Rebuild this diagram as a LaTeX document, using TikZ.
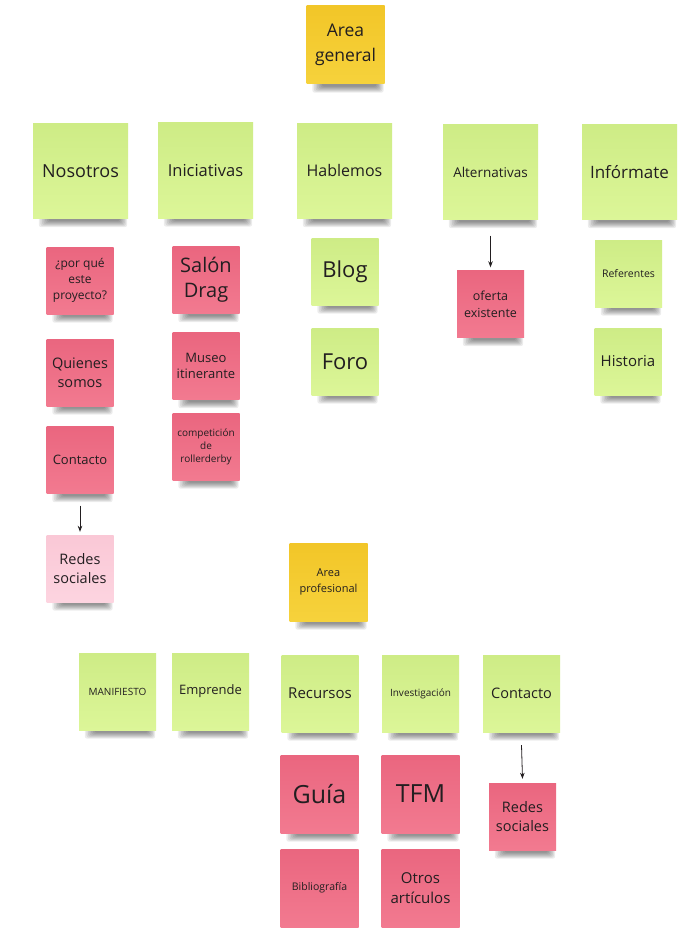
\documentclass[tikz,border=0pt]{standalone}
\usepackage{fontspec}
\setmainfont{Open Sans}
\usetikzlibrary{backgrounds,calc,arrows.meta}

\definecolor{ink}{RGB}{34,30,32}
\definecolor{leafTop}{RGB}{206,236,134}
\definecolor{leafBot}{RGB}{220,246,152}
\definecolor{roseTop}{RGB}{234,102,127}
\definecolor{roseBot}{RGB}{242,122,144}
\definecolor{blushTop}{RGB}{250,200,214}
\definecolor{blushBot}{RGB}{253,212,224}
\definecolor{sunTop}{RGB}{242,198,40}
\definecolor{sunBot}{RGB}{246,210,60}

\newcommand\fsz[2]{\fontsize{#1}{#2}\selectfont}

\tikzset{
  sq/.style={minimum width=#1pt, minimum height=#1pt},
  fs/.style 2 args={font=\fsz{#1}{#2}},
  sticky/.style={inner sep=1pt, align=center, text=ink, draw=none},
  leaf/.style={sticky, top color=leafTop, bottom color=leafBot},
  rose/.style={sticky, top color=roseTop, bottom color=roseBot},
  blush/.style={sticky, top color=blushTop, bottom color=blushBot},
  sun/.style={sticky, top color=sunTop, bottom color=sunBot},
  link/.style={draw=ink, line width=0.8pt, -{Stealth[length=6pt,width=4.5pt]}},
  curl/.style={fill=black, fill opacity=0.075, rounded corners=2.5pt}
}

\begin{document}
\begin{tikzpicture}[x=1pt, y=-1pt]
\useasboundingbox (0,0) rectangle (686,928);

% general area
\node[sun, sq=78, fs={17.5}{25}] (gen) at (345.5,45) {Area\\general};

\node[leaf, sq=95, fs={18}{24}] (nos) at (80.5,171) {Nosotros};
\node[leaf, sq=95, fs={16.5}{22}] (ini) at (205.5,170.5) {Iniciativas};
\node[leaf, sq=95, fs={16}{22}] (hab) at (344.5,171) {Hablemos};
\node[leaf, sq=95, fs={13.5}{18}] (alt) at (490.5,172) {Alternativas};
\node[leaf, sq=95, fs={17}{22}] (inf) at (629.5,172) {Infórmate};

\node[rose, sq=67, fs={12}{16}] (porque) at (80,280.5) {¿por qué\\este\\proyecto?};
\node[rose, sq=67, fs={14.5}{19.5}] (quienes) at (80,372.5) {Quienes\\somos};
\node[rose, sq=67, fs={13}{17}] (contA) at (80,460) {Contacto};
\node[blush, sq=67, fs={14.5}{19.5}] (redA) at (80,568.5) {Redes\\sociales};

\node[rose, sq=67, fs={20}{25}] (salon) at (206,280) {Salón\\Drag};
\node[rose, sq=67, fs={13}{16.5}] (museo) at (206,366) {Museo\\itinerante};
\node[rose, sq=67, fs={10}{13}] (comp) at (206,446.5) {competición\\de\\rollerderby};

\node[leaf, sq=67, fs={22}{26}] (blog) at (345,271.5) {Blog};
\node[leaf, sq=67, fs={22}{26}] (foro) at (345,361.5) {Foro};

\node[rose, sq=67, fs={12.5}{17}] (ofer) at (490.5,304) {oferta\\existente};

\node[leaf, sq=67, fs={10.5}{14}] (refe) at (628.5,273.5) {Referentes};
\node[leaf, sq=67, fs={15}{19}] (hist) at (628,361.5) {Historia};

% professional area
\node[sun, sq=78, fs={11}{16}] (pro) at (328.5,582) {Area\\profesional};

\node[leaf, sq=77, fs={10}{13}] (mani) at (117.5,691.5) {MANIFIESTO};
\node[leaf, sq=77, fs={13}{17}] (empr) at (210.5,691.5) {Emprende};
\node[leaf, sq=77, fs={15}{19}] (recu) at (320,693.5) {Recursos};
\node[leaf, sq=77, fs={10}{13}] (inve) at (420.5,693.5) {Investigación};
\node[leaf, sq=77, fs={14.5}{19}] (contB) at (521.5,693.5) {Contacto};

\node[rose, sq=78, fs={25}{30}] (guia) at (319.5,794) {Guía};
\node[rose, sq=78, fs={25}{30}] (tfm) at (420.5,794) {TFM};
\node[rose, sq=67, fs={14.5}{19.5}] (redB) at (522.5,816.5) {Redes\\sociales};
\node[rose, sq=78, fs={10.5}{14}] (bibl) at (319.5,888) {Bibliografía};
\node[rose, sq=78, fs={15}{20}] (otros) at (420.5,888) {Otros\\artículos};

% white sheet and soft shadows under the lower edge of every note
\begin{pgfonlayer}{background}
\fill[white] (0,0) rectangle (686,928);
\foreach \n in {gen,nos,ini,hab,alt,inf,porque,quienes,contA,redA,salon,museo,comp,
                blog,foro,ofer,refe,hist,pro,mani,empr,recu,inve,contB,guia,tfm,redB,bibl,otros}
  \foreach \k in {0,...,6}
    \path[curl] ($(\n.south west)+(6+1.6*\k,-3)$) rectangle ($(\n.south east)+(-1-1.2*\k,8.5-\k)$);
\end{pgfonlayer}

% connectors
\draw[link] ($(contA.south)+(0,12)$) -- ($(redA.north)+(0,-3)$);
\draw[link] ($(alt.south)+(0,16)$) -- ($(ofer.north)+(0,-3)$);
\draw[link] ($(contB.south)+(0,13)$) -- ($(redB.north)+(0,-4)$);
\end{tikzpicture}
\end{document}
